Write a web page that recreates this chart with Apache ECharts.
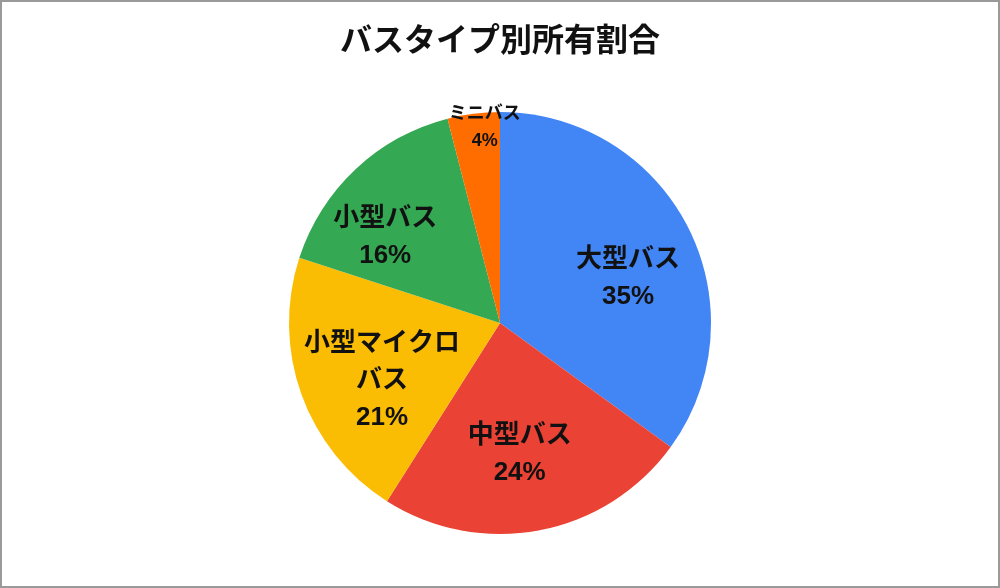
<!DOCTYPE html>
<html>
<head>
<meta charset="utf-8">
<script src="https://cdn.jsdelivr.net/npm/echarts@6/dist/echarts.min.js"></script>
<style>
html,body{margin:0;padding:0;background:#fff}
#main{width:1000px;height:588px;box-sizing:border-box;border:2px solid #9a9a9a}
</style>
</head>
<body>
<div id="main"></div>
<script>
var titleText='バスタイプ別所有割合'
var categories=['大型バス','中型バス','小型マイクロバス','小型バス','ミニバス']
var shares=[35,24,21,16,4]
var colors=['#4285F4','#EA4335','#FBBC04','#34A853','#FF6D01']

var font='"Liberation Sans","Noto Sans CJK JP",sans-serif'
var center=[498,321]
var R=211
// ラベルの微調整（元のグラフの配置に寄せる）
var labelNudge={'大型バス':[6,18],'中型バス':[-6,-3],'小型マイクロバス':[11,11],'小型バス':[-21,14],'ミニバス':[2,-60]}

var pieData=categories.map(function(name,i){
    return {name:name,value:shares[i],itemStyle:{color:colors[i]}}
})
// 透明な重ね円でラベルの位置を半径の約0.63倍に
var labelData=categories.map(function(name,i){
    var d={name:name,value:shares[i],label:{offset:labelNudge[name]}}
    if(name==='ミニバス'){
        d.label.fontSize=18
        d.label.lineHeight=27
    }
    return d
})

var myChart=echarts.init(document.getElementById('main'),null,{renderer:'canvas'})
var option={
    title:{
        text:titleText,
        left:'center',
        top:19,
        textStyle:{fontFamily:font,fontSize:32,fontWeight:'bold',color:'#111'}
    },
    series:[
        {
            type:'pie',
            center:center,
            radius:[0,R],
            startAngle:90,
            clockwise:true,
            silent:true,
            label:{show:false},
            labelLine:{show:false},
            itemStyle:{borderWidth:0},
            data:pieData
        },
        {
            type:'pie',
            center:center,
            radius:[0,Math.round(R*1.27)],
            startAngle:90,
            clockwise:true,
            silent:true,
            itemStyle:{color:'rgba(0,0,0,0)',borderWidth:0},
            labelLine:{show:false},
            label:{
                show:true,
                position:'inside',
                formatter:function(p){
                    var n=p.name
                    if(n.length>6) n=n.slice(0,6)+'\n'+n.slice(6)
                    return n+'\n'+p.value+'%'
                },
                fontFamily:font,
                fontSize:26,
                fontWeight:'bold',
                lineHeight:37,
                color:'#111'
            },
            data:labelData
        }
    ]
}
myChart.setOption(option)
</script>
</body>
</html>
